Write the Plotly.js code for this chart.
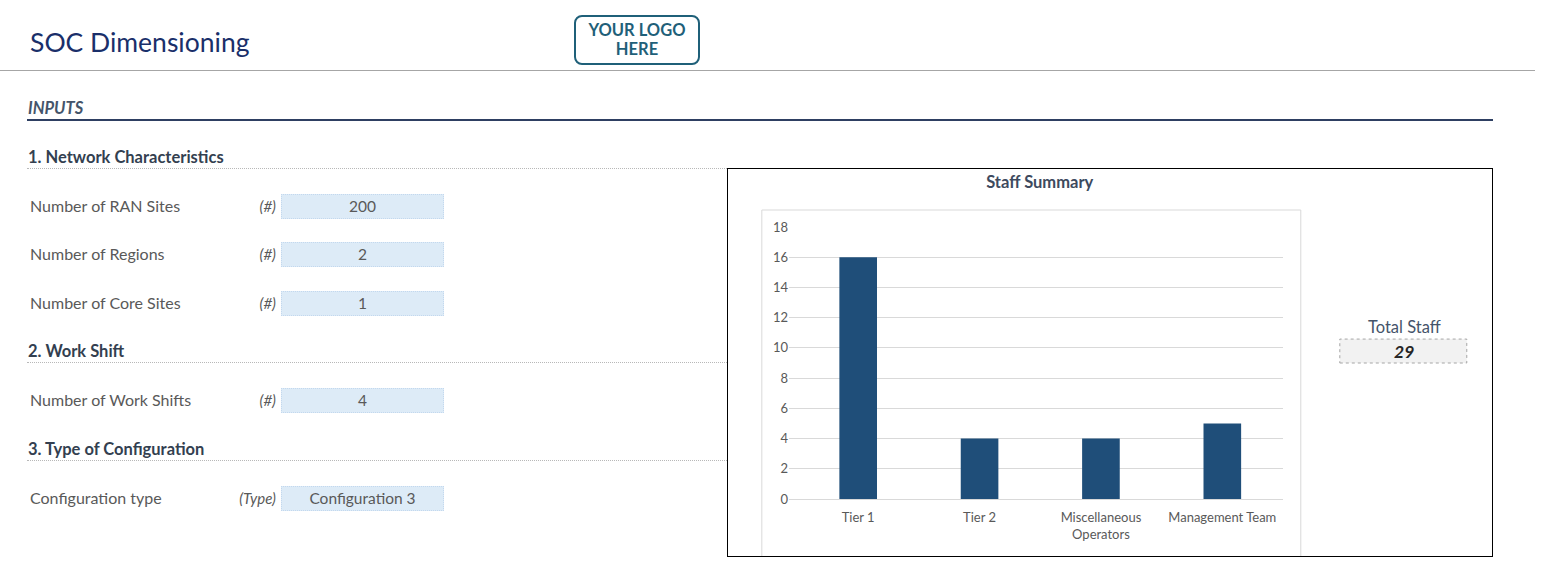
<!DOCTYPE html>
<html lang="en">
<head>
    <meta charset="UTF-8">
    <title>SOC Dimensioning</title>
    <script src="https://cdn.plot.ly/plotly-3.0.1.min.js"></script>
    <style>
        body { margin: 0; width: 1545px; height: 567px; background: #fff; font-family: Lato, "Open Sans", sans-serif; position: relative; overflow: hidden; }
        .abs { position: absolute; white-space: nowrap; }
        .title { left: 30px; top: 26px; font-size: 26.5px; line-height: 32px; color: #1a2f6a; }
        .logo { left: 574px; top: 15px; width: 122px; height: 46px; border: 2px solid #1f6079; border-radius: 8px;
                color: #1f6079; font-weight: bold; font-size: 16.5px; line-height: 19px; text-align: center;
                display: flex; align-items: center; justify-content: center; }
        .section { font-size: 16.5px; font-weight: bold; color: #333f50; line-height: 20px; left: 28px; }
        .inputs { left: 28px; top: 98px; font-size: 16.5px; font-weight: bold; font-style: italic; color: #44546a; line-height: 20px; }
        .dotted { left: 27px; width: 700px; height: 0; border-top: 1px dotted #b8b8b8; }
        .label { left: 30px; font-size: 16px; color: #595959; line-height: 20px; }
        .unit { left: 200px; width: 76px; text-align: right; font-size: 15px; font-style: italic; color: #595959; line-height: 20px; }
        .box { left: 281px; width: 161px; height: 23px; background: #ddebf7; border: 1px dotted #c3d8ee;
               font-size: 15.5px; color: #595959; text-align: center; line-height: 23px; }
        #chartBox { left: 727px; top: 168px; width: 764px; height: 387px; border: 1.5px solid #000; }
    </style>
</head>
<body>
<div class="abs title">SOC Dimensioning</div>
<div class="abs logo">YOUR LOGO<br>HERE</div>
<div class="abs" style="left:0;top:70px;width:1535px;height:1px;background:#a6a6a6"></div>
<div class="abs inputs">INPUTS</div>
<div class="abs" style="left:27px;top:119px;width:1466px;height:2px;background:#2e3f62"></div>
<div id="sheet"></div>
<div class="abs" id="chartBox"><div id="plot"></div></div>

<script>

    // sheet inputs
    const sections = ['1. Network Characteristics', '2. Work Shift', '3. Type of Configuration']
    const sectionRows = [157, 351, 449]
    const inputLabels = ['Number of RAN Sites', 'Number of Regions', 'Number of Core Sites', 'Number of Work Shifts', 'Configuration type']
    const inputUnits = ['(#)', '(#)', '(#)', '(#)', '(Type)']
    const inputValues = ['200', '2', '1', '4', 'Configuration 3']
    const inputRows = [206, 254, 303, 400, 498]

    // chart data
    const roles = ['Tier 1', 'Tier 2', 'Miscellaneous<br>Operators', 'Management Team']
    const staff = [16, 4, 4, 5]
    const yTicks = [0, 2, 4, 6, 8, 10, 12, 14, 16, 18]

    const sheet = document.getElementById('sheet')
    function add(cls, top, text) {
        const d = document.createElement('div')
        d.className = 'abs ' + cls
        d.style.top = top + 'px'
        d.textContent = text
        sheet.appendChild(d)
    }

    sections.forEach((s, i) => {
        add('section', sectionRows[i] - 10, s)
        add('dotted', sectionRows[i] + 11, '')
    })
    inputLabels.forEach((l, i) => {
        add('label', inputRows[i] - 10, l)
        add('unit', inputRows[i] - 10, inputUnits[i])
        add('box', inputRows[i] - 12, inputValues[i])
    })

    const totalStaff = staff.reduce((a, b) => a + b, 0)

    const dataStaff = {
        x: roles,
        y: staff,
        type: 'bar',
        width: 0.31,
        marker: { color: '#1f4e79' },
        hoverinfo: 'x+y'
    }

    const layout = {
        width: 764,
        height: 387,
        margin: { l: 61, r: 209, t: 58, b: 57 },
        paper_bgcolor: '#fff',
        plot_bgcolor: '#fff',
        showlegend: false,
        font: { family: 'Lato, "Open Sans", sans-serif', color: '#595959', size: 13 },
        title: {
            text: '<b>Staff Summary</b>',
            font: { size: 16.5, color: '#3d4a5e' },
            xref: 'container', x: 0.408, xanchor: 'center',
            yref: 'container', y: 0.966, yanchor: 'middle'
        },
        xaxis: {
            type: 'category',
            range: [-0.57, 3.5],
            showgrid: false,
            showline: false,
            ticks: '',
            ticklabelstandoff: 9,
            tickfont: { size: 13, color: '#595959' },
            fixedrange: true
        },
        yaxis: {
            range: [0, 18],
            tickvals: yTicks,
            showgrid: true,
            gridcolor: '#d9d9d9',
            zeroline: true,
            zerolinecolor: '#d9d9d9',
            showline: false,
            ticks: '',
            tickfont: { size: 13, color: '#595959' },
            fixedrange: true
        },
        shapes: [
            // plot area border
            { type: 'rect', xref: 'paper', yref: 'paper', x0: -0.055, x1: 1.036, y0: -0.215, y1: 1.0625,
              line: { color: '#d9d9d9', width: 1 }, layer: 'below' },
            // total staff cell
            { type: 'rect', xref: 'paper', yref: 'paper', x0: 1.115, x1: 1.372, y0: 0.5, y1: 0.588,
              fillcolor: '#f2f2f2', line: { color: '#a6a6a6', width: 1, dash: 'dot' } }
        ],
        annotations: [
            { xref: 'paper', yref: 'paper', x: 1.245, y: 0.632, xanchor: 'center', yanchor: 'middle',
              text: 'Total Staff', showarrow: false, font: { size: 16.5, color: '#44546a' } },
            { xref: 'paper', yref: 'paper', x: 1.245, y: 0.544, xanchor: 'center', yanchor: 'middle',
              text: '<b><i>' + totalStaff + '</i></b>', showarrow: false, font: { size: 17.5, color: '#262626' } }
        ]
    }

    Plotly.newPlot('plot', [dataStaff], layout, { displayModeBar: false, staticPlot: true })

</script>

</body>
</html>
